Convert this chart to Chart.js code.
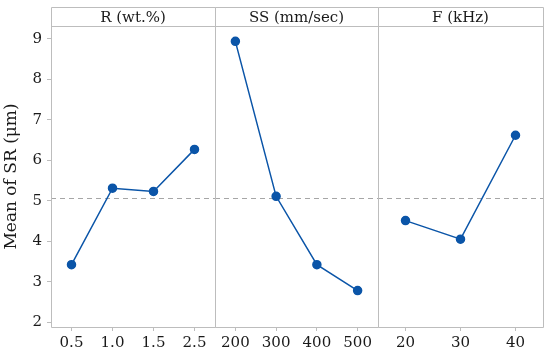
<!DOCTYPE html>
<html>
<head>
<meta charset="utf-8">
<script src="https://cdn.jsdelivr.net/npm/chart.js@4.4.0/dist/chart.umd.min.js"></script>
<style>
html, body { margin: 0; padding: 0; background: #fff; }
#wrap { position: relative; width: 550px; height: 353px; }
#wrap canvas { position: absolute; left: 0; top: 0; }
</style>
</head>
<body>
<div id="wrap">
  <canvas id="c1" width="550" height="353"></canvas>
  <canvas id="c2" width="550" height="353"></canvas>
  <canvas id="c3" width="550" height="353"></canvas>
</div>
<script>
// main effects for SR, one panel per factor
var rLabels = ['0.5', '1.0', '1.5', '2.5'];
var rMeans = [3.42, 5.31, 5.23, 6.27];
var ssLabels = ['200', '300', '400', '500'];
var ssMeans = [8.94, 5.11, 3.42, 2.78];
var fLabels = ['20', '30', '40'];
var fMeans = [4.51, 4.05, 6.62];
var yTicks = [2, 3, 4, 5, 6, 7, 8, 9];
var yMin = 1.88, yMax = 9.32;

var avg = (arr) => arr.reduce((s, v) => s + v, 0) / arr.length;
var grandMean = (avg(rMeans) + avg(ssMeans) + avg(fMeans)) / 3;

var FONT = 'DejaVu Serif';
var TXT = '#1a1a1a';
var FRAME = '#bdbdbd';
var BLUE = '#0b55a8';

var panelPlugin = {
    id: 'panel',
    beforeDatasetsDraw(chart, args, opts) {
        var a = chart.chartArea, ctx = chart.ctx;
        var top = 7.5;
        ctx.save();
        // mean reference line
        var my = Math.round(chart.scales.y.getPixelForValue(grandMean)) + 0.5;
        ctx.strokeStyle = '#a6a6a6';
        ctx.lineWidth = 1;
        ctx.setLineDash([5, 4]);
        ctx.beginPath();
        ctx.moveTo(a.left, my);
        ctx.lineTo(a.right, my);
        ctx.stroke();
        ctx.setLineDash([]);
        // frame + header strip
        ctx.strokeStyle = FRAME;
        ctx.beginPath();
        ctx.moveTo(a.left + 0.5, top);
        ctx.lineTo(a.left + 0.5, a.bottom + 0.5);
        ctx.lineTo(a.right + 0.5, a.bottom + 0.5);
        ctx.lineTo(a.right + 0.5, top);
        ctx.closePath();
        ctx.moveTo(a.left, a.top + 0.5);
        ctx.lineTo(a.right + 1, a.top + 0.5);
        ctx.stroke();
        ctx.fillStyle = TXT;
        ctx.font = '15px "' + FONT + '"';
        ctx.textAlign = 'center';
        ctx.textBaseline = 'middle';
        ctx.fillText(opts.header, (a.left + a.right) / 2, (top + a.top) / 2 + 1);
        ctx.restore();
    }
};

function makePanel(id, labels, values, header, padLeft, padRight, showY) {
    var cfg = {
        type: 'line',
        data: {
            labels: labels,
            datasets: [{
                data: values,
                borderColor: BLUE,
                backgroundColor: BLUE,
                borderWidth: 1.5,
                pointRadius: 4,
                pointHoverRadius: 4,
                tension: 0
            }]
        },
        options: {
            responsive: false,
            animation: false,
            events: [],
            layout: { padding: { top: 26, left: padLeft, right: padRight, bottom: 0 } },
            plugins: {
                legend: { display: false },
                tooltip: { enabled: false },
                panel: { header: header }
            },
            scales: {
                x: {
                    type: 'category',
                    offset: true,
                    border: { display: false },
                    grid: { drawOnChartArea: false, drawTicks: true, tickLength: 4, color: FRAME, offset: false },
                    ticks: { color: TXT, font: { family: FONT, size: 15 }, padding: 3, maxRotation: 0, autoSkip: false },
                    afterFit: (s) => { s.height = 26; }
                },
                y: {
                    display: showY,
                    min: yMin,
                    max: yMax,
                    border: { display: false },
                    grid: { drawOnChartArea: false, drawTicks: true, tickLength: 4, color: FRAME },
                    ticks: { color: TXT, font: { family: FONT, size: 15 }, padding: 5 },
                    afterBuildTicks: (s) => { s.ticks = yTicks.map((v) => ({ value: v })); },
                    title: {
                        display: true,
                        text: 'Mean of SR (μm)',
                        color: TXT,
                        font: { family: FONT, size: 17 },
                        padding: { top: 1, bottom: 2 }
                    },
                    afterFit: (s) => { s.width = showY ? 51 : 0; }
                }
            }
        },
        plugins: [panelPlugin]
    };
    return new Chart(document.getElementById(id), cfg);
}

makePanel('c1', rLabels, rMeans, 'R (wt.%)', 0, 335, true);
makePanel('c2', ssLabels, ssMeans, 'SS (mm/sec)', 215, 172, false);
makePanel('c3', fLabels, fMeans, 'F (kHz)', 378, 7, false);
</script>
</body>
</html>
